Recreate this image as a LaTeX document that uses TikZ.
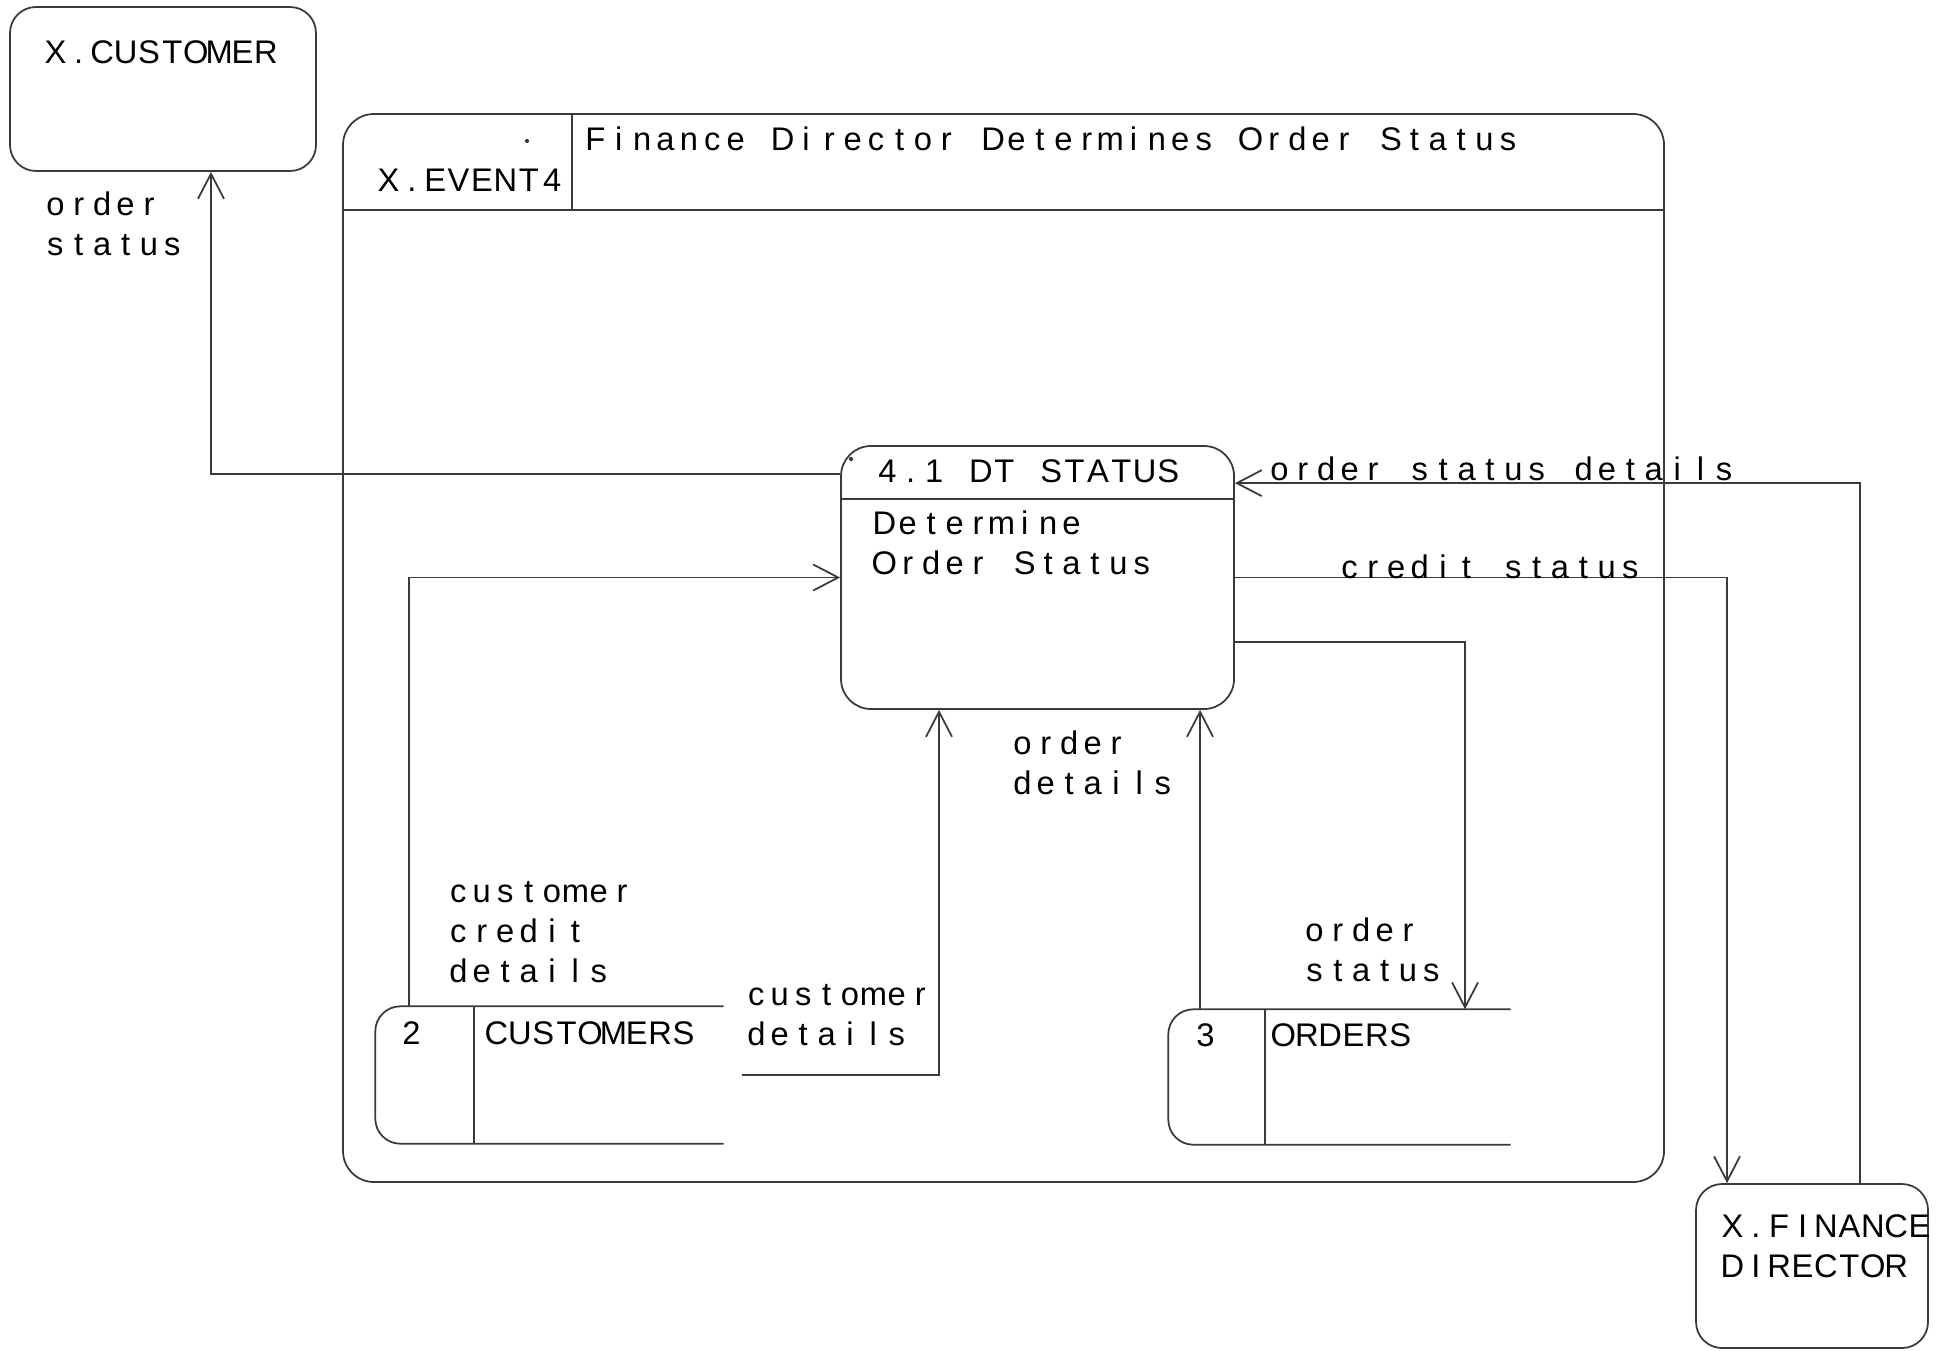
\documentclass[tikz,border=0pt]{standalone}
\usepackage{fontspec}
\setmainfont{Liberation Sans}
\usetikzlibrary{arrows.meta,positioning,calc}
\definecolor{dfdLine}{HTML}{3a3a3a}
\newlength{\pitchw}
\setlength{\pitchw}{0.234cm}
% every character in a cell of its own (fixed pitch)
\ExplSyntaxOn
\NewDocumentCommand{\fixt}{m}{\str_map_inline:nn{#1}{\makebox[\pitchw][c]{##1}}}
\ExplSyntaxOff
\tikzset{
  >={Straight Barb[length=2.5mm,width=2.6mm]},
  box/.style={draw=dfdLine, line width=0.5pt, rounded corners=2.6mm, inner sep=0pt},
  store/.style={inner sep=0pt},
  txt/.style={anchor=west, inner sep=0pt, align=left, font=\fontsize{9.3}{11.4}\selectfont},
  line/.style={draw=dfdLine, line width=0.5pt},
  flow/.style={->, draw=dfdLine, line width=0.5pt},
}

\begin{document}
\begin{tikzpicture}
    \useasboundingbox (0,0) rectangle (19.44,13.5);
    % external entities
    \node[box,minimum width=3.06cm,minimum height=1.64cm] (cus) at (1.63,12.61){};
    \node[txt] (cusL) at (0.43,12.98){\fixt{X.CUSTOMER}};
    \node[box,minimum width=2.32cm,minimum height=1.64cm] (fd) at (18.12,0.84){};
    \node[txt] (fdL) at (17.20,1.035){\fixt{X.FINANCE}\\\fixt{DIRECTOR}};
    % event frame
    \node[box,rounded corners=3.1mm,minimum width=13.21cm,minimum height=10.68cm] (ev) at (10.035,7.02){};
    \draw[line] ([yshift=-0.97cm]ev.north west) -- ([yshift=-0.97cm]ev.north east);
    \draw[line] ([xshift=2.3cm]ev.north west) -- ++(0,-0.97);
    \node[txt] (evL) at (3.76,11.70){\fixt{X.EVENT4}};
    \node[txt] (evT) at (5.83,12.11){\fixt{Finance Director Determines Order Status}};
    \fill[dfdLine] (5.27,12.09) circle (0.6pt);
    % process
    \node[box,rounded corners=3mm,minimum width=3.93cm,minimum height=2.63cm] (dt) at (10.375,7.725){};
    \draw[line] ([yshift=-0.54cm]dt.north west) -- ([yshift=-0.54cm]dt.north east);
    \node[txt] (dtL) at (8.75,8.79){\fixt{4.1 DT STATUS}};
    \node[txt] (dtB) at (8.72,8.07){\fixt{Determine}\\\fixt{Order Status}};
    \fill[dfdLine] (8.51,8.91) circle (0.6pt);
    % data stores
    \node[store,minimum width=3.47cm,minimum height=1.36cm] (cust) at (5.495,2.75){};
    \draw[line,rounded corners=2.5mm] (cust.north east) -- (cust.north west) -- (cust.south west) -- (cust.south east);
    \draw[line] ([xshift=0.99cm]cust.north west) -- ([xshift=0.99cm]cust.south west);
    \node[txt] (custN) at (3.99,3.17){\fixt{2}};
    \node[txt] (custL) at (4.84,3.17){\fixt{CUSTOMERS}};
    \node[store,minimum width=3.41cm,minimum height=1.34cm] (ord) at (13.395,2.73){};
    \draw[line,rounded corners=2.5mm] (ord.north east) -- (ord.north west) -- (ord.south west) -- (ord.south east);
    \draw[line] ([xshift=0.97cm]ord.north west) -- ([xshift=0.97cm]ord.south west);
    \node[txt] (ordN) at (11.93,3.15){\fixt{3}};
    \node[txt] (ordL) at (12.71,3.15){\fixt{ORDERS}};
    % flows
    \draw[flow] ([yshift=-0.29cm]dt.north west) -| ([xshift=0.48cm]cus.south);
    \node[txt] (f1) at (0.43,11.265){\fixt{order}\\\fixt{status}};
    \draw[flow] ([xshift=0.48cm]fd.north) |- ([yshift=-0.38cm]dt.north east);
    \node[txt] (f2) at (12.67,8.81){\fixt{order status details}};
    \draw[flow] (dt.east) -| ([xshift=-0.85cm]fd.north);
    \node[txt] (f3) at (13.37,7.83){\fixt{credit status}};
    \draw[flow] ([yshift=-0.645cm]dt.east) -| ([xshift=1.255cm]ord.north);
    \node[txt] (f4) at (13.02,4.00){\fixt{order}\\\fixt{status}};
    \coordinate (odA) at ([xshift=-1.395cm]ord.north);
    \draw[flow] (odA) -- (odA |- dt.south);
    \node[txt] (f5) at (10.10,5.87){\fixt{order}\\\fixt{details}};
    \coordinate (cdA) at ([xshift=0.18cm]cust.east);
    \draw[flow] (cdA) -| ([xshift=-0.985cm]dt.south);
    \node[txt] (f6) at (7.44,3.35){\fixt{customer}\\\fixt{details}};
    \draw[flow] ([xshift=-1.405cm]cust.north) |- (dt.west);
    \node[txt] (f7) at (4.46,4.18){\fixt{customer}\\\fixt{credit}\\\fixt{details}};
\end{tikzpicture}
\end{document}
